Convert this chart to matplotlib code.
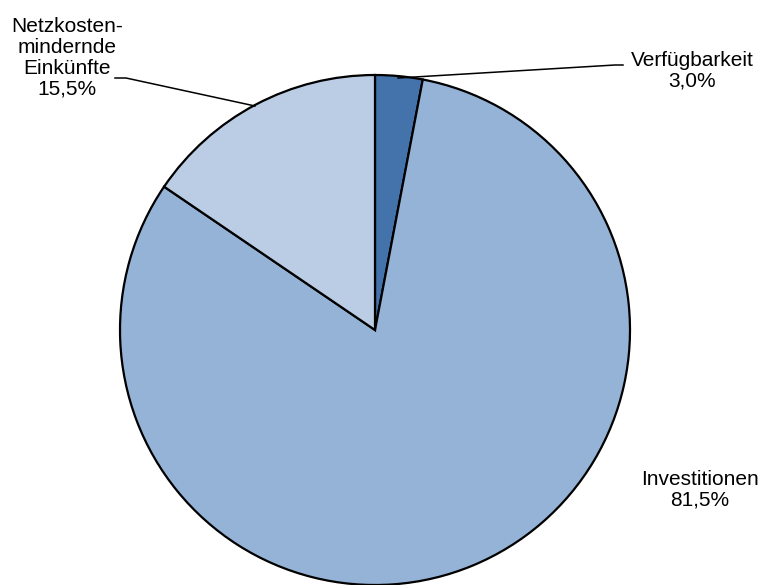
import matplotlib.pyplot as plt

plt.rcParams['font.family'] = ['Liberation Sans', 'DejaVu Sans']

# data
labels = ['Verfügbarkeit', 'Investitionen', 'Netzkosten-\nmindernde\nEinkünfte']
shares = [3.0, 81.5, 15.5]
colors = ['#4473AC', '#95B3D7', '#BACDE5']

W, H = 764, 585
fig = plt.figure(figsize=(W / 100, H / 100), dpi=100)
ax = fig.add_axes([0, 0, 1, 1])

def py(y):
    # pixel row from top -> data y
    return H - y

ax.pie(shares, colors=colors, startangle=90, counterclock=False,
       center=(375, py(330)), radius=255, frame=True,
       wedgeprops=dict(edgecolor='black', linewidth=1.6))
ax.set_xlim(0, W)
ax.set_ylim(0, H)
ax.axis('off')

def pct(v):
    return ('%.1f%%' % v).replace('.', ',')

fs = 15
ls = 1.12
# Verfügbarkeit
ax.text(692, py(71), labels[0] + '\n' + pct(shares[0]), ha='center', va='center',
        fontsize=fs, linespacing=ls)
ax.plot([398, 615, 623], [py(78), py(65), py(65)], color='black', lw=1.1)

# Investitionen
ax.text(700, py(490), labels[1] + '\n' + pct(shares[1]), ha='center', va='center',
        fontsize=fs, linespacing=ls)

# Netzkosten
ax.text(67, py(58), labels[2] + '\n' + pct(shares[2]), ha='center', va='center',
        fontsize=fs, linespacing=ls)
ax.plot([115, 126, 255], [py(78), py(78), py(106)], color='black', lw=1.1)

fig.savefig('out.png', dpi=100)
